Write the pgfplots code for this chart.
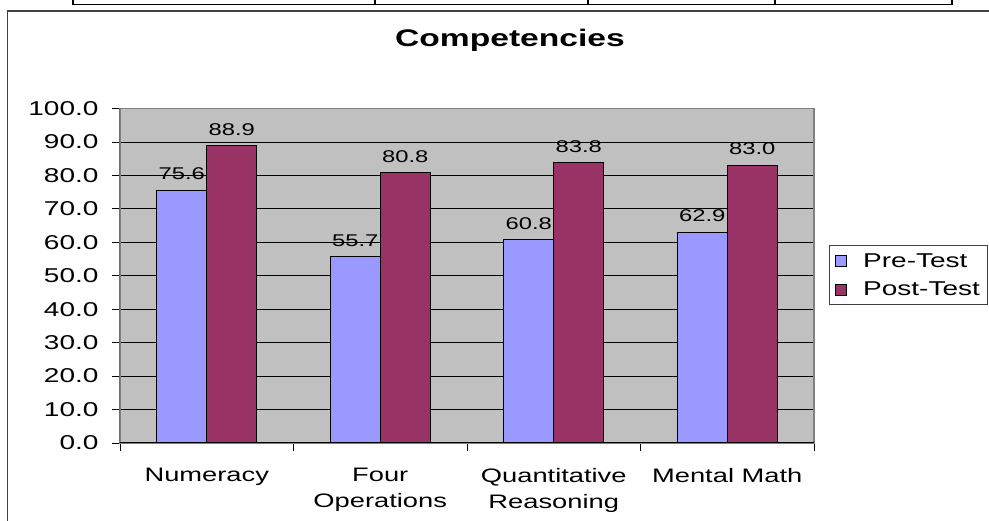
\documentclass[border=0pt]{standalone}
\usepackage{fontspec}
\setmainfont{Liberation Sans}[FakeStretch=1.4]
\usepackage{pgfplots}
\pgfplotsset{compat=1.18}
\definecolor{pre}{HTML}{9999FF}
\definecolor{post}{HTML}{993366}
\definecolor{plotbg}{HTML}{C0C0C0}
\definecolor{framegray}{HTML}{404040}
\begin{document}
\begin{tikzpicture}[x=1pt,y=1pt]
\useasboundingbox (0,0) rectangle (989,-521);
% fragment of the table above the chart
\draw[line width=1.8pt] (73,0.5) -- (73,-4.5) -- (952,-4.5) -- (952,0.5);
\foreach \xx in {375,588,775} \draw[line width=1.2pt] (\xx,0.5)--(\xx,-4.5);
% chart frame
\draw[framegray, line width=1.3pt] (7.5,-522) -- (7.5,-11) -- (990,-11);
\node[anchor=base, font=\bfseries\fontsize{24}{28}\selectfont] at (510,-47) {Competencies};
\begin{axis}[
  at={(120pt,-443pt)}, anchor=south west,
  width=694pt, height=334.5pt, scale only axis,
  xmin=-0.5, xmax=3.5, ymin=0, ymax=100,
  ybar=0pt, bar width=50pt,
  axis background/.style={fill=plotbg},
  axis line style={draw=gray, line width=1.2pt},
  ymajorgrids, grid style={black, line width=0.8pt},
  ytick={0,10,...,100},
  tick pos=left,
  tick align=outside, major tick length=8pt,
  tick style={black, line width=0.8pt},
  yticklabel style={font=\fontsize{20}{24}\selectfont, xshift=-10pt, /pgf/number format/.cd, fixed, fixed zerofill, precision=1, assume math mode=true},
  xtick={-0.5,0.5,1.5,2.5,3.5}, xticklabels={{},{},{},{},{}},
  extra x ticks={0,1,2,3},
  extra x tick labels={Numeracy, {Four\\Operations}, {Quantitative\\Reasoning}, {Mental Math}},
  extra x tick style={major tick length=0pt, grid=none, xticklabel style={align=center, font=\fontsize{19.5}{26}\selectfont, anchor=north, yshift=-22pt}},
  legend style={at={(axis description cs:1.0216,0.592)}, anchor=north west, draw=framegray, line width=1pt, font=\fontsize{20}{24}\selectfont, cells={anchor=west}, inner xsep=6pt, inner ysep=6pt, row sep=9pt, /tikz/every odd column/.style={column sep=14pt}},
  legend image code/.code={\draw[#1, draw=black, line width=0.7pt] (0pt,-5.5pt) rectangle (11pt,5.5pt);},
  nodes near coords,
  nodes near coords style={font=\fontsize{17}{20}\selectfont, /tikz/anchor=south, /tikz/inner sep=0pt, /tikz/yshift=10pt, /pgf/number format/.cd, fixed, fixed zerofill, precision=1, assume math mode=true},
]
\addplot[fill=pre, draw=black, line width=0.9pt] coordinates {(0,75.6) (1,55.7) (2,60.8) (3,62.9)};
\addplot[fill=post, draw=black, line width=0.9pt] coordinates {(0,88.9) (1,80.8) (2,83.8) (3,83.0)};
\legend{Pre-Test, Post-Test}
\draw[black, line width=1pt] (rel axis cs:0,1) -- (rel axis cs:0,0) -- (rel axis cs:1,0);
\end{axis}
\end{tikzpicture}
\end{document}
